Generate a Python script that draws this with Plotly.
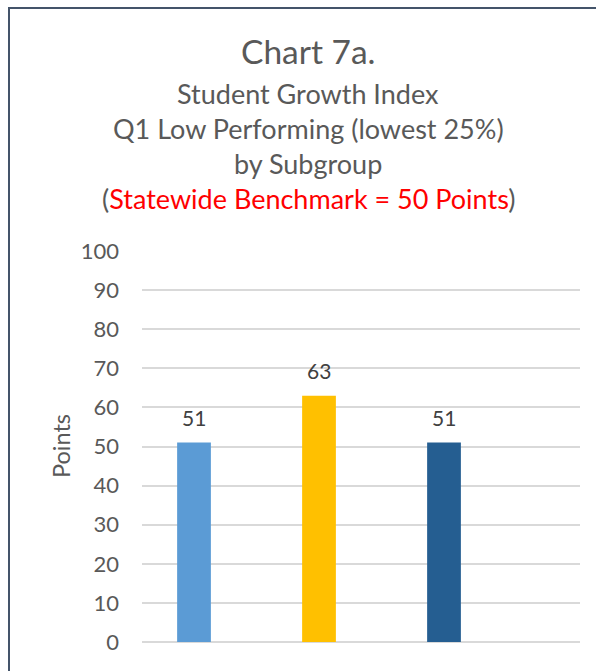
import plotly.graph_objects as go

categories = ["Group A", "Group B", "Group C"]
values = [51, 63, 51]
colors = ["#5B9BD5", "#FFC000", "#255E91"]
tick_vals = [0, 10, 20, 30, 40, 50, 60, 70, 80, 90, 100]

W, H = 596, 671
FONT = "Lato"

def px(x):
    return x / W

def py(y):
    return 1 - y / H

fig = go.Figure()
fig.add_trace(go.Bar(
    x=list(range(len(categories))), y=values,
    marker=dict(color=colors, line=dict(width=0)),
    width=0.27, hoverinfo="skip", showlegend=False,
))

annotations = []
for i, v in enumerate(values):
    annotations.append(dict(
        x=i, y=v, xref="x", yref="y", text=str(v), showarrow=False,
        yanchor="middle", yshift=25,
        font=dict(family=FONT, size=21, color="#404040"),
    ))

title_lines = [
    ("Chart 7a.", 51, 33.5),
    ("Student Growth Index", 93, 27),
    ("Q1 Low Performing (lowest 25%)", 128, 27),
    ("by Subgroup", 163, 27),
    ("(<span style='color:#FF0000'>Statewide Benchmark = 50 Points</span>)", 199, 27),
]
for t, y, s in title_lines:
    annotations.append(dict(
        x=px(308), y=py(y), xref="paper", yref="paper", text=t, showarrow=False,
        xanchor="center", yanchor="middle",
        font=dict(family=FONT, size=s, color="#595959"),
    ))

annotations.append(dict(
    x=px(61), y=py(446), xref="paper", yref="paper", text="Points", showarrow=False,
    textangle=-90, xanchor="center", yanchor="middle",
    font=dict(family=FONT, size=23.5, color="#595959"),
))

fig.update_layout(
    width=W, height=H, autosize=False,
    margin=dict(l=0, r=0, t=0, b=0, pad=0),
    paper_bgcolor="white", plot_bgcolor="white",
    annotations=annotations,
    shapes=[dict(
        type="rect", xref="paper", yref="paper",
        x0=px(9), x1=px(W + 20), y0=py(H + 20), y1=py(8),
        line=dict(color="#44546A", width=2), fillcolor="rgba(0,0,0,0)",
    )],
    xaxis=dict(
        domain=[px(142), px(580)], range=[-0.416, 3.088],
        showticklabels=False, showgrid=False, zeroline=False, showline=False,
        fixedrange=True, automargin=False,
    ),
    yaxis=dict(
        domain=[py(642), py(251)], range=[0, 100],
        tickvals=tick_vals, showgrid=True, gridcolor="#D9D9D9", gridwidth=1.5,
        zeroline=True, zerolinecolor="#D9D9D9", zerolinewidth=1.5,
        showline=False, ticks="", ticklabelstandoff=22, automargin=False,
        fixedrange=True,
        tickfont=dict(family=FONT, size=22, color="#595959"),
    ),
)

fig.write_html(
    "out.html",
    config={"displayModeBar": False},
    post_script="document.body.style.margin='0';document.documentElement.style.overflow='hidden';",
)
